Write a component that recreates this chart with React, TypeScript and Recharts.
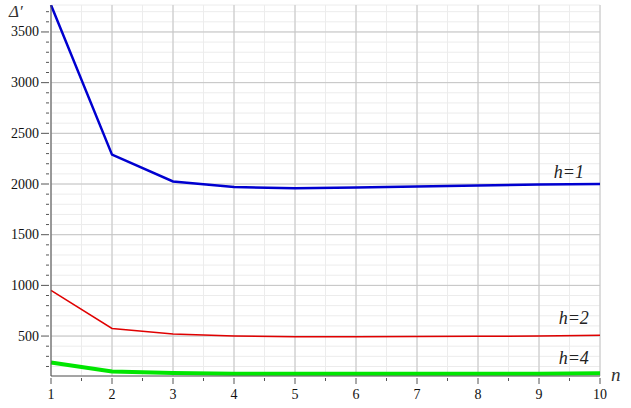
import React from 'react'
import {
  LineChart,
  Line,
  XAxis,
  YAxis,
  CartesianGrid,
  ReferenceLine,
  ReferenceDot,
} from 'recharts'

const nValues = [1, 2, 3, 4, 5, 6, 7, 8, 9, 10]
const h1 = [3766, 2290, 2025, 1970, 1958, 1965, 1975, 1985, 1995, 2000]
const h2 = [950, 575, 520, 500, 492, 492, 495, 498, 500, 508]
const h4 = [240, 150, 135, 128, 127, 127, 127, 127, 128, 132]

const xMajor = [1, 2, 3, 4, 5, 6, 7, 8, 9, 10]
const xAll = [1, 1.5, 2, 2.5, 3, 3.5, 4, 4.5, 5, 5.5, 6, 6.5, 7, 7.5, 8, 8.5, 9, 9.5, 10]
const yMajor = [500, 1000, 1500, 2000, 2500, 3000, 3500]
const yAll = [
  200, 300, 400, 500, 600, 700, 800, 900, 1000, 1100, 1200, 1300, 1400, 1500, 1600, 1700,
  1800, 1900, 2000, 2100, 2200, 2300, 2400, 2500, 2600, 2700, 2800, 2900, 3000, 3100,
  3200, 3300, 3400, 3500, 3600, 3700,
]

const curveLabels = ['h=1', 'h=2', 'h=4']
const labelAt = [
  { n: 9.49, v: 2114 },
  { n: 9.57, v: 677 },
  { n: 9.57, v: 283 },
]

const data = nValues.map((n, i) => ({ n, h1: h1[i], h2: h2[i], h4: h4[i] }))

const serif = "'Liberation Serif', 'Times New Roman', 'DejaVu Serif', serif"

function YTick(props: any) {
  const { x, y, payload } = props
  const major = payload.value % 500 === 0
  return (
    <g>
      <line x1={x + 6} x2={x + 6 - (major ? 8 : 3)} y1={y} y2={y} stroke="#555" />
      {major && (
        <text
          x={x - 4}
          y={y + 4.5}
          textAnchor="end"
          fontFamily={serif}
          style={{ fontSize: 14, fontFamily: serif }}
          fill="#111"
        >
          {payload.value}
        </text>
      )}
    </g>
  )
}

function XTick(props: any) {
  const { x, y, payload } = props
  const major = Number.isInteger(payload.value)
  return (
    <g>
      <line x1={x} x2={x} y1={y - 6} y2={y - 6 + (major ? 6 : 3)} stroke="#555" />
      {major && (
        <text
          x={x}
          y={y + 15}
          textAnchor="middle"
          fontFamily={serif}
          style={{ fontSize: 14, fontFamily: serif }}
          fill="#111"
        >
          {payload.value}
        </text>
      )}
    </g>
  )
}

function curveLabel(text: string) {
  return (p: any) => (
    <text
      x={p.cx}
      y={p.cy + 6}
      textAnchor="middle"
      fontFamily={serif}
      style={{ fontSize: 18, fontStyle: 'italic', fontFamily: serif }}
      fill="#222"
    >
      {text}
    </text>
  )
}

export default function App() {
  return (
    <div style={{ position: 'absolute', left: 0, top: 0, width: 631, height: 408, background: '#fff' }}>
      <LineChart width={631} height={408} data={data} margin={{ top: 5, right: 31, left: 0, bottom: 0 }}>
        <CartesianGrid stroke="#ececec" />
        {xMajor.map((v) => (
          <ReferenceLine key={'vx' + v} x={v} stroke="#c4c4c4" />
        ))}
        {yMajor.map((v) => (
          <ReferenceLine key={'hy' + v} y={v} stroke="#c4c4c4" />
        ))}
        <XAxis
          dataKey="n"
          type="number"
          domain={[1, 10]}
          ticks={xAll}
          interval={0}
          height={32}
          tickLine={false}
          tickSize={6}
          tick={<XTick />}
          stroke="#555"
        />
        <YAxis
          type="number"
          domain={[106, 3766]}
          ticks={yAll}
          interval={0}
          width={51}
          tickLine={false}
          tickSize={6}
          tick={<YTick />}
          stroke="#555"
          allowDataOverflow
        />
        <Line dataKey="h1" stroke="#0000d0" strokeWidth={2.5} dot={false} isAnimationActive={false} />
        <Line dataKey="h2" stroke="#e00000" strokeWidth={1.5} dot={false} isAnimationActive={false} />
        <Line dataKey="h4" stroke="#00e600" strokeWidth={4} dot={false} isAnimationActive={false} />
        {curveLabels.map((t, i) => (
          <ReferenceDot key={t} x={labelAt[i].n} y={labelAt[i].v} r={0} shape={curveLabel(t)} />
        ))}
      </LineChart>
      <span
        style={{
          position: 'absolute',
          left: 9,
          top: 3,
          lineHeight: 1,
          fontFamily: serif,
          fontStyle: 'italic',
          fontSize: 17,
          color: '#333',
        }}
      >
        Δ′
      </span>
      <span
        style={{
          position: 'absolute',
          left: 611,
          top: 365,
          lineHeight: 1,
          fontFamily: serif,
          fontStyle: 'italic',
          fontSize: 19,
          color: '#333',
        }}
      >
        n
      </span>
    </div>
  )
}
